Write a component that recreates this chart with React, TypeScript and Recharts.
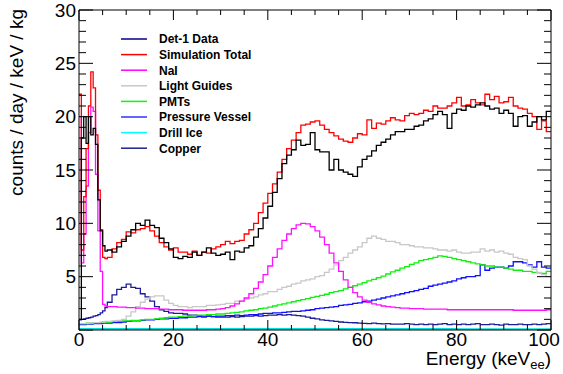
import React from "react";
import { LineChart, Line, XAxis, YAxis, Legend } from "recharts";

const FONT = "'Liberation Sans', Arial, Helvetica, sans-serif";

// bin left edges (keV): 0.5 keV bins below 6 keV, 1 keV bins above
const lowEdges = [0, 0.5, 1, 1.5, 2, 2.5, 3, 3.5, 4, 4.5, 5, 5.5];
const keVEdges = [
  6, 7, 8, 9, 10, 11, 12, 13, 14, 15,
  16, 17, 18, 19, 20, 21, 22, 23, 24, 25,
  26, 27, 28, 29, 30, 31, 32, 33, 34, 35,
  36, 37, 38, 39, 40, 41, 42, 43, 44, 45,
  46, 47, 48, 49, 50, 51, 52, 53, 54, 55,
  56, 57, 58, 59, 60, 61, 62, 63, 64, 65,
  66, 67, 68, 69, 70, 71, 72, 73, 74, 75,
  76, 77, 78, 79, 80, 81, 82, 83, 84, 85,
  86, 87, 88, 89, 90, 91, 92, 93, 94, 95,
  96, 97, 98, 99,
];
const lastEdge = 100;

const det1 = [
  1.0, 18.0, 20.0, 17.5, 20.0, 18.3, 18.9, 17.4, 12.2, 9.3, 7.9, 7.4,
  7.5, 7.3, 7.8, 8.3, 8.8, 9.4, 10.0, 9.8, 10.3, 9.8,
  9.6, 8.6, 8.2, 7.6, 6.8, 6.7, 6.9, 6.8, 7.3, 7.0,
  7.3, 7.7, 7.2, 7.0, 7.1, 7.3, 6.6, 7.4, 7.3, 7.7,
  7.9, 8.7, 9.5, 10.5, 11.6, 12.9, 14.2, 15.6, 16.4, 16.9,
  17.8, 17.3, 17.4, 18.5, 16.9, 16.7, 16.7, 15.0, 16.0, 15.0,
  14.8, 14.6, 14.4, 15.3, 16.0, 16.3, 16.8, 17.3, 17.6, 17.9,
  18.3, 18.6, 18.6, 18.8, 18.8, 19.1, 19.2, 19.6, 19.8, 20.2,
  20.5, 20.2, 18.9, 20.3, 20.7, 20.6, 21.0, 20.9, 21.1, 21.3,
  21.0, 20.7, 20.8, 20.3, 20.6, 20.3, 19.1, 20.0, 20.1, 19.1,
  19.5, 20.0, 19.7, 20.5,
];

const simTotal = [
  22.1, 7.5, 12.5, 17.0, 21.0, 24.2, 22.7, 18.3, 13.1, 9.4, 6.8, 6.7,
  6.8, 7.6, 8.2, 8.5, 9.2, 9.1, 9.4, 9.5, 9.7, 9.3,
  8.8, 8.2, 7.8, 7.5, 7.7, 7.3, 7.3, 7.1, 7.4, 7.0,
  7.3, 7.2, 7.6, 7.8, 8.0, 8.3, 8.1, 8.3, 8.4, 9.0,
  9.4, 10.0, 11.0, 11.9, 12.8, 13.7, 14.8, 16.0, 17.0, 17.8,
  18.5, 19.2, 19.3, 19.5, 19.6, 19.2, 18.8, 18.5, 18.2, 17.9,
  17.7, 17.6, 18.0, 18.4, 18.3, 19.7, 18.9, 19.4, 19.3, 19.6,
  19.9, 19.7, 19.6, 20.1, 20.3, 20.2, 20.3, 20.6, 20.5, 21.0,
  20.8, 20.8, 21.0, 21.3, 21.8, 21.0, 21.1, 21.6, 21.3, 21.1,
  22.1, 21.6, 21.9, 21.3, 21.4, 21.8, 21.0, 20.8, 20.7, 20.3,
  20.0, 18.8, 19.6, 18.6,
];

const nai = [
  20.0, 6.3, 9.0, 13.5, 18.5, 20.9, 20.5, 14.6, 9.3, 5.5, 2.4, 2.25,
  2.2, 2.2, 2.15, 2.15, 2.1, 2.1, 2.05, 2.05, 2.0, 2.0,
  2.0, 1.95, 1.95, 1.9, 1.9, 1.9, 1.85, 1.85, 1.85, 1.85,
  1.85, 1.9, 1.9, 1.95, 2.0, 2.1, 2.25, 2.45, 2.7, 3.0,
  3.4, 3.9, 4.5, 5.2, 6.0, 6.8, 7.6, 8.4, 9.0, 9.5,
  9.85, 10.0, 9.95, 9.7, 9.3, 8.7, 8.0, 7.2, 6.3, 5.5,
  4.7, 4.0, 3.5, 3.1, 2.8, 2.6, 2.45, 2.35, 2.25, 2.2,
  2.15, 2.1, 2.05, 2.05, 2.0, 2.0, 2.0, 1.95, 1.95, 1.95,
  1.95, 1.95, 1.9, 1.9, 1.9, 1.9, 1.9, 1.9, 1.9, 1.9,
  1.9, 1.9, 1.9, 1.9, 1.9, 1.9, 1.85, 1.85, 1.85, 1.85,
  1.85, 1.85, 1.85, 1.9,
];

const lightGuides = [
  0.6, 0.6, 0.6, 0.6, 0.65, 0.65, 0.7, 0.7, 0.7, 0.75, 0.75, 0.8,
  0.8, 0.85, 0.9, 1.0, 1.3, 1.7, 2.2, 2.6, 2.9, 3.1,
  3.2, 3.2, 2.8, 2.5, 2.3, 2.2, 2.2, 2.1, 2.2, 2.2,
  2.2, 2.3, 2.3, 2.35, 2.4, 2.5, 2.5, 2.7, 2.7, 2.9,
  3.0, 3.1, 3.3, 3.4, 3.6, 3.6, 3.8, 4.0, 4.1, 4.3,
  4.4, 4.6, 4.7, 4.8, 5.0, 5.1, 5.4, 5.7, 6.1, 6.5,
  6.8, 7.2, 7.5, 7.8, 8.2, 8.6, 8.8, 8.6, 8.5, 8.3,
  8.3, 8.2, 8.0, 8.0, 7.9, 7.8, 7.8, 7.7, 7.7, 7.6,
  7.5, 7.5, 7.4, 7.5, 7.3, 7.2, 7.2, 7.3, 7.3, 7.6,
  7.4, 7.5, 7.3, 7.4, 7.2, 7.1, 6.8, 6.7, 6.6, 6.0,
  5.7, 5.4, 5.2, 5.0,
];

const pmts = [
  0.6, 0.6, 0.6, 0.65, 0.65, 0.65, 0.7, 0.7, 0.7, 0.7, 0.75, 0.75,
  0.75, 0.8, 0.8, 0.85, 0.85, 0.9, 0.9, 0.95, 1.0, 1.0,
  1.05, 1.1, 1.15, 1.2, 1.2, 1.25, 1.3, 1.3, 1.35, 1.4,
  1.4, 1.45, 1.45, 1.5, 1.5, 1.55, 1.6, 1.65, 1.7, 1.8,
  1.85, 1.9, 2.0, 2.05, 2.15, 2.25, 2.35, 2.45, 2.55, 2.65,
  2.75, 2.85, 2.95, 3.05, 3.15, 3.25, 3.35, 3.5, 3.6, 3.7,
  3.85, 4.0, 4.15, 4.3, 4.45, 4.6, 4.75, 4.9, 5.05, 5.25,
  5.45, 5.6, 5.8, 5.95, 6.15, 6.3, 6.5, 6.6, 6.7, 6.8,
  6.95, 6.9, 6.8, 6.7, 6.6, 6.5, 6.4, 6.3, 6.2, 6.1,
  6.0, 6.0, 5.9, 5.9, 5.8, 5.7, 5.6, 5.6, 5.5, 5.5,
  5.4, 5.35, 5.3, 5.5,
];

const pressureVessel = [
  0.5, 0.5, 0.5, 0.55, 0.55, 0.55, 0.6, 0.6, 0.6, 0.6, 0.65, 0.65,
  0.65, 0.7, 0.7, 0.75, 0.8, 0.85, 0.85, 0.9, 0.95, 0.95,
  1.0, 1.05, 1.05, 1.1, 1.1, 1.15, 1.15, 1.2, 1.2, 1.25,
  1.2, 1.3, 1.25, 1.3, 1.3, 1.35, 1.35, 1.4, 1.35, 1.4,
  1.45, 1.45, 1.5, 1.55, 1.55, 1.6, 1.6, 1.65, 1.7, 1.75,
  1.75, 1.8, 1.85, 1.9, 2.0, 2.05, 2.1, 2.15, 2.2, 2.3,
  2.35, 2.4, 2.5, 2.55, 2.65, 2.7, 2.8, 2.9, 3.0, 3.1,
  3.2, 3.3, 3.4, 3.5, 3.6, 3.7, 3.8, 3.9, 4.1, 4.2,
  4.3, 4.4, 4.5, 4.6, 4.8, 4.9, 5.0, 5.0, 5.1, 6.1,
  5.6, 5.8, 5.9, 5.9, 5.8, 6.0, 6.4, 6.4, 6.3, 6.1,
  5.9, 6.4, 5.9, 5.8,
];

const copper = [
  0.95, 1.0, 1.05, 1.1, 1.15, 1.2, 1.3, 1.35, 1.45, 1.6, 1.8, 2.1,
  2.6, 3.3, 3.8, 4.0, 4.3, 4.0, 3.9, 3.4, 3.1, 2.7,
  2.2, 1.9, 1.75, 1.6, 1.55, 1.55, 1.5, 1.4, 1.4, 1.35,
  1.3, 1.3, 1.25, 1.2, 1.2, 1.2, 1.25, 1.2, 1.25, 1.3,
  1.3, 1.35, 1.3, 1.35, 1.4, 1.4, 1.45, 1.4, 1.45, 1.4,
  1.35, 1.3, 1.2, 1.1, 1.05, 0.95, 0.9, 0.85, 0.8, 0.75,
  0.72, 0.7, 0.68, 0.65, 0.62, 0.6, 0.65, 0.6, 0.58, 0.6,
  0.55, 0.55, 0.55, 0.6, 0.55, 0.5, 0.55, 0.5, 0.55, 0.5,
  0.55, 0.6, 0.5, 0.55, 0.5, 0.55, 0.5, 0.55, 0.6, 0.5,
  0.5, 0.55, 0.5, 0.45, 0.55, 0.5, 0.5, 0.55, 0.5, 0.5,
  0.55, 0.5, 0.55, 0.6,
];

// drill ice is flat along the bottom
const drillIceEdges = [0, 20, 40, 60, 80, 100];
const drillIce = [0.1, 0.1, 0.09, 0.09, 0.08, 0.08];

const xTicks = [0, 5, 10, 15, 20, 25, 30, 35, 40, 45, 50, 55, 60, 65, 70, 75, 80, 85, 90, 95, 100];
const yTicks = [
  0, 1, 2, 3, 4, 5, 6, 7, 8, 9, 10, 11, 12, 13, 14, 15,
  16, 17, 18, 19, 20, 21, 22, 23, 24, 25, 26, 27, 28, 29, 30,
];

const legendNames = ["Det-1 Data", "Simulation Total", "NaI", "Light Guides", "PMTs", "Pressure Vessel", "Drill Ice", "Copper"];
const legendColors = ["#000088", "#ff0000", "#ff00ff", "#c8c8c8", "#00ff00", "#3030ff", "#00ffff", "#202090"];

const edges = [...lowEdges, ...keVEdges];
const rows = [...edges, lastEdge].map((e, i) => {
  const k = Math.min(i, edges.length - 1);
  return {
    e,
    det1: det1[k],
    total: simTotal[k],
    nai: nai[k],
    lg: lightGuides[k],
    pmt: pmts[k],
    pv: pressureVessel[k],
    cu: copper[k],
  };
});
const iceRows = drillIceEdges.map((e, i) => ({ e, ice: drillIce[i] }));

const series = [
  { key: "cu", color: "#1c1c96" },
  { key: "pv", color: "#1010ff" },
  { key: "pmt", color: "#10f010" },
  { key: "lg", color: "#c8c8c8" },
  { key: "nai", color: "#ff10ff" },
  { key: "total", color: "#ff0000" },
  { key: "det1", color: "#000000" },
];

const LeftTick = (props: any) => {
  const { x, y, payload } = props;
  const v = payload.value;
  const major = v % 5 === 0;
  return (
    <g>
      <line x1={x} x2={x + (major ? 14 : 7)} y1={y} y2={y} stroke="#000" />
      {major && v > 0 && (
        <text x={x - 3} y={y} dy={6.8} textAnchor="end" fontSize={19} fontFamily={FONT} fill="#000">
          {v}
        </text>
      )}
    </g>
  );
};

const RightTick = (props: any) => {
  const { x, y, payload } = props;
  const major = payload.value % 5 === 0;
  return <line x1={x} x2={x - (major ? 14 : 7)} y1={y} y2={y} stroke="#000" />;
};

const BottomTick = (props: any) => {
  const { x, y, payload } = props;
  const v = payload.value;
  const major = v % 20 === 0;
  // the last label is pulled in so it stays inside the canvas
  const lx = v === 100 ? x - 7 : x;
  return (
    <g>
      <line x1={x} x2={x} y1={y} y2={y - (major ? 10 : 5)} stroke="#000" />
      {major && (
        <text x={lx} y={y + 16} textAnchor="middle" fontSize={19} fontFamily={FONT} fill="#000">
          {v}
        </text>
      )}
    </g>
  );
};

const TopTick = (props: any) => {
  const { x, y, payload } = props;
  const major = payload.value % 20 === 0;
  return <line x1={x} x2={x} y1={y} y2={y + (major ? 10 : 5)} stroke="#000" />;
};

const LegendBox = () => (
  <svg width={200} height={130}>
    {legendNames.map((name, i) => {
      const cy = 9 + i * 15.6;
      return (
        <g key={name}>
          <line x1={6} x2={32} y1={cy} y2={cy} stroke={legendColors[i]} strokeWidth={1.5} />
          <text x={44} y={cy + 4.3} fontSize={12} fontWeight="bold" fontFamily={FONT} fill="#000">
            {name}
          </text>
        </g>
      );
    })}
  </svg>
);

export default function App() {
  return (
    <div style={{ position: "absolute", left: 0, top: 0, width: 563, height: 374, background: "#fff" }}>
      <LineChart width={563} height={374} data={rows} margin={{ top: 0, right: 0, bottom: 0, left: 0 }}>
        <XAxis
          xAxisId="b"
          dataKey="e"
          type="number"
          domain={[0, 100]}
          ticks={xTicks}
          interval={0}
          tickSize={0}
          tickMargin={0}
          tickLine={false}
          axisLine={{ stroke: "#000" }}
          height={44}
          tick={BottomTick}
          allowDataOverflow
        />
        <XAxis
          xAxisId="t"
          orientation="top"
          dataKey="e"
          type="number"
          domain={[0, 100]}
          ticks={xTicks}
          interval={0}
          tickSize={0}
          tickMargin={0}
          tickLine={false}
          axisLine={{ stroke: "#000" }}
          height={10}
          tick={TopTick}
          allowDataOverflow
        />
        <YAxis
          yAxisId="l"
          type="number"
          domain={[0, 30]}
          ticks={yTicks}
          interval={0}
          tickSize={0}
          tickMargin={0}
          tickLine={false}
          axisLine={{ stroke: "#000" }}
          width={79}
          tick={LeftTick}
          allowDataOverflow
        />
        <YAxis
          yAxisId="r"
          orientation="right"
          type="number"
          domain={[0, 30]}
          ticks={yTicks}
          interval={0}
          tickSize={0}
          tickMargin={0}
          tickLine={false}
          axisLine={{ stroke: "#000" }}
          width={12}
          tick={RightTick}
          allowDataOverflow
        />
        <Legend
          layout="vertical"
          align="center"
          verticalAlign="middle"
          content={LegendBox}
          wrapperStyle={{ left: 115, top: 30, width: 200, height: 130 }}
        />
        <Line
          xAxisId="t"
          yAxisId="r"
          data={iceRows}
          dataKey="ice"
          type="stepAfter"
          stroke="#00e0e0"
          strokeWidth={2}
          dot={false}
          activeDot={false}
          isAnimationActive={false}
        />
        {series.map((s) => (
          <Line
            key={s.key}
            xAxisId="b"
            yAxisId="l"
            dataKey={s.key}
            type="stepAfter"
            stroke={s.color}
            strokeWidth={1.3}
            dot={false}
            activeDot={false}
            isAnimationActive={false}
          />
        ))}
      </LineChart>
      <svg
        width={563}
        height={374}
        style={{ position: "absolute", left: 0, top: 0, pointerEvents: "none" }}
      >
        <text
          transform="translate(23, 9) rotate(-90)"
          textAnchor="end"
          fontSize={19}
          fontFamily={FONT}
          fill="#000"
        >
          counts / day / keV / kg
        </text>
        <text x={551} y={365} textAnchor="end" fontSize={19} fontFamily={FONT} fill="#000">
          Energy (keV
          <tspan fontSize={13} dy={4}>ee</tspan>
          <tspan dy={-4}>)</tspan>
        </text>
      </svg>
    </div>
  );
}
